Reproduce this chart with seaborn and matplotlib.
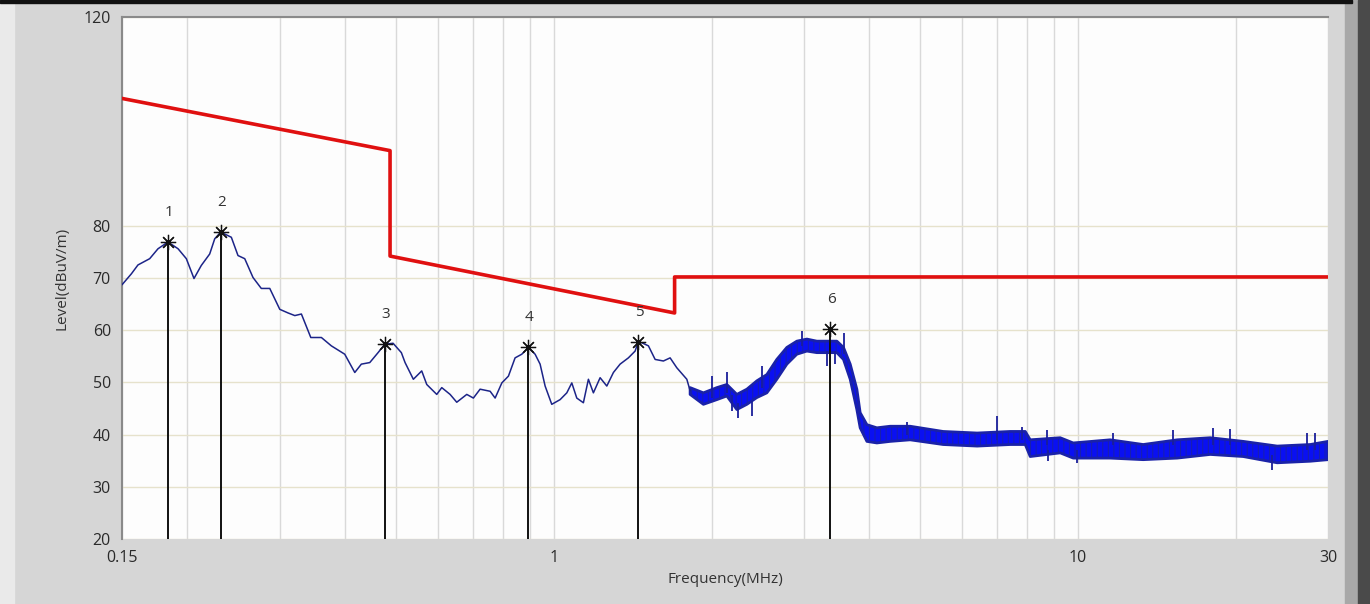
import numpy as np
import pandas as pd
import matplotlib
matplotlib.use('Agg')
import matplotlib.pyplot as plt
from matplotlib.ticker import LogLocator, NullFormatter, FixedLocator
from matplotlib.patches import Rectangle
import seaborn as sns

# Spektrum (ince çizgi kısmı), MHz / dBuV/m
trace_freq = [0.150, 0.1563, 0.1609, 0.1694, 0.1757, 0.1836, 0.1919, 0.1990, 0.2058, 0.2125,
              0.2205, 0.2254, 0.2314, 0.2425, 0.2497, 0.2572, 0.2667, 0.2766, 0.2871, 0.300,
              0.3112, 0.3205, 0.3299, 0.3438, 0.3602, 0.3763, 0.3991, 0.4171, 0.4293, 0.4455,
              0.4620, 0.4757, 0.4935, 0.5118, 0.5202, 0.5395, 0.5597, 0.5722, 0.5979, 0.6112,
              0.6340, 0.6528, 0.6822, 0.7023, 0.7233, 0.7559, 0.7727, 0.7958, 0.8192, 0.8435,
              0.8687, 0.8943, 0.9211, 0.9415, 0.9625, 0.9910, 1.028, 1.0587, 1.0822, 1.1061,
              1.1387, 1.1641, 1.1899, 1.2255, 1.2621, 1.2993, 1.338, 1.3876, 1.4292, 1.448,
              1.472, 1.5153, 1.5606, 1.6184, 1.6668, 1.7166, 1.7937, 1.820]
trace_level = [68.7, 70.8, 72.5, 73.7, 75.6, 76.9, 75.6, 73.7, 69.9, 72.4,
               74.6, 77.5, 78.8, 77.8, 74.3, 73.7, 70.1, 68.0, 68.0, 64.0,
               63.3, 62.8, 63.1, 58.6, 58.6, 57.0, 55.4, 51.9, 53.5, 53.8,
               55.7, 57.3, 57.5, 55.7, 53.8, 50.6, 52.2, 49.6, 47.7, 49.0,
               47.7, 46.2, 47.7, 47.0, 48.7, 48.3, 47.0, 49.9, 51.2, 54.7,
               55.4, 56.7, 55.4, 53.5, 49.3, 45.8, 46.7, 48.0, 49.9, 47.0,
               46.1, 50.6, 48.0, 50.9, 49.3, 51.9, 53.5, 54.7, 56.0, 57.7,
               57.6, 57.0, 54.4, 54.1, 54.7, 52.8, 50.6, 48.4]

# Yoğun gürültü bandı (alt / üst zarf)
band_freq = [1.820, 1.9293, 2.0467, 2.1384, 2.2347, 2.3352, 2.4402, 2.5493, 2.6634, 2.7836,
             2.9085, 3.0394, 3.1757, 3.318, 3.468, 3.570, 3.677, 3.786, 3.8415, 3.957,
             4.134, 4.383, 4.785, 5.532, 6.423, 7.428, 7.934, 8.109, 9.250, 9.795,
             11.52, 13.32, 15.47, 17.88, 20.67, 24.00, 27.75, 30.0]
band_lo = [47.7, 45.8, 46.7, 47.4, 44.8, 45.8, 47.1, 48.0, 50.6, 53.5,
           55.4, 56.0, 55.7, 55.7, 55.7, 54.4, 50.6, 44.8, 41.3, 38.7,
           38.4, 38.7, 39.0, 38.1, 37.8, 38.1, 38.1, 35.8, 36.5, 35.5,
           35.5, 35.2, 35.5, 36.2, 35.8, 34.6, 34.9, 35.2]
band_hi = [49.0, 48.0, 49.0, 49.6, 47.7, 48.7, 50.3, 51.5, 54.4, 56.7,
           57.9, 58.3, 57.9, 57.9, 57.9, 56.7, 53.5, 48.7, 44.2, 41.9,
           41.3, 41.6, 41.6, 40.6, 40.3, 40.6, 40.6, 39.0, 39.4, 38.4,
           39.0, 38.1, 39.0, 39.4, 38.7, 37.8, 38.1, 38.7]

# Belirgin tekil sivri uçlar (frekans, alt, üst)
spike_freq = [2.003, 2.138, 2.186, 2.250, 2.387, 2.495, 2.973, 3.318, 3.441, 3.582,
              4.717, 7.005, 7.818, 8.727, 8.778, 9.954, 11.67, 15.20, 18.12, 19.53,
              23.45, 27.36, 28.37]
spike_lo = [47.0, 48.0, 44.5, 43.2, 43.5, 49.0, 57.0, 53.1, 53.5, 55.5,
            40.0, 39.0, 39.0, 38.0, 34.9, 34.6, 38.0, 38.0, 38.0, 38.0,
            33.3, 37.0, 37.0]
spike_hi = [51.2, 51.9, 47.5, 46.0, 46.5, 53.1, 59.9, 56.0, 56.0, 59.5,
            42.4, 43.5, 41.5, 40.8, 37.0, 37.0, 40.3, 40.8, 41.3, 41.0,
            36.0, 40.4, 40.4]

# Limit çizgisi
limit_freq = [0.15, 0.487, 0.487, 1.70, 1.70, 30.0]
limit_level = [104.4, 94.4, 74.2, 63.3, 70.2, 70.2]

# Tepe noktaları
peak_freq = [0.1836, 0.2314, 0.4757, 0.8943, 1.448, 3.367]
peak_level = [76.9, 78.8, 57.3, 56.7, 57.7, 60.2]
peak_label = ['1', '2', '3', '4', '5', '6']

sns.set_style('white')
plt.rcParams['font.family'] = ['Open Sans', 'DejaVu Sans']
plt.rcParams['hatch.linewidth'] = 0.7

fig = plt.figure(figsize=(13.7, 6.04), dpi=100, facecolor='#d6d6d6')
ax = fig.add_axes([122 / 1370, 65 / 604, 1206 / 1370, 522 / 604])
ax.set_facecolor('#fdfdfd')

# Çerçeve süsleri
fig.patches.append(Rectangle((0, 0), 14 / 1370, 1, transform=fig.transFigure,
                             color='#eaeaea', zorder=0))
fig.patches.append(Rectangle((1345 / 1370, 0), 25 / 1370, 1, transform=fig.transFigure,
                             color='#a8a8a8', zorder=0))
fig.patches.append(Rectangle((1358 / 1370, 0), 12 / 1370, 1, transform=fig.transFigure,
                             color='#4a4a4a', zorder=0))
fig.patches.append(Rectangle((0, 1 - 3 / 604), 1352 / 1370, 3 / 604, transform=fig.transFigure,
                             color='#111111', zorder=0))

df_trace = pd.DataFrame({'freq': trace_freq, 'level': trace_level})
df_limit = pd.DataFrame({'freq': limit_freq, 'level': limit_level})

ax.fill_between(band_freq, band_lo, band_hi, facecolor='#0a10f2', edgecolor='#1a22a8',
                hatch='|||', lw=2.0, zorder=3)
ax.vlines(spike_freq, spike_lo, spike_hi, color='#1a1f9a', lw=1.3, zorder=3)
sns.lineplot(data=df_trace, x='freq', y='level', ax=ax, color='#1c2488', lw=1.1,
             estimator=None, sort=False, zorder=4)
sns.lineplot(data=df_limit, x='freq', y='level', ax=ax, color='#e01010', lw=2.6,
             estimator=None, sort=False, zorder=5)

ax.vlines(peak_freq, 20, peak_level, color='#111111', lw=1.4, zorder=6)
ax.plot(peak_freq, peak_level, ls='none', marker=(8, 2, 0), ms=11, mec='#111111',
        mew=0.9, zorder=7)
for f, lv, lab in zip(peak_freq, peak_level, peak_label):
    ax.annotate(lab, (f, lv), xytext=(1, 22), textcoords='offset pixels',
                ha='center', va='bottom', fontsize=11, color='#333333', zorder=8)

ax.set_xscale('log')
ax.set_xlim(0.15, 30)
ax.set_ylim(20, 120)
ax.xaxis.set_major_locator(FixedLocator([0.15, 1, 10, 30]))
ax.set_xticklabels(['0.15', '1', '10', '30'])
ax.xaxis.set_minor_locator(LogLocator(base=10, subs=np.arange(2, 10)))
ax.xaxis.set_minor_formatter(NullFormatter())
ax.set_yticks([20, 30, 40, 50, 60, 70, 80, 120])

ax.grid(True, which='both', axis='x', color='#d9d9d9', lw=1)
ax.grid(True, which='major', axis='y', color='#e6e2cc', lw=1)
ax.set_axisbelow(True)
ax.tick_params(axis='both', which='both', length=0, labelsize=11.5, colors='#2a2a2a')
ax.tick_params(axis='x', pad=8)
ax.tick_params(axis='y', pad=8)

for side in ['right', 'bottom']:
    ax.spines[side].set_visible(False)
for side in ['left', 'top']:
    ax.spines[side].set_color('#8a8a8a')
    ax.spines[side].set_linewidth(1.5)

ax.set_xlabel('Frequency(MHz)', fontsize=11, color='#333333', labelpad=4)
ax.set_ylabel('Level(dBuV/m)', fontsize=11, color='#333333', labelpad=10)

fig.savefig('out.png', dpi=100, facecolor=fig.get_facecolor())
